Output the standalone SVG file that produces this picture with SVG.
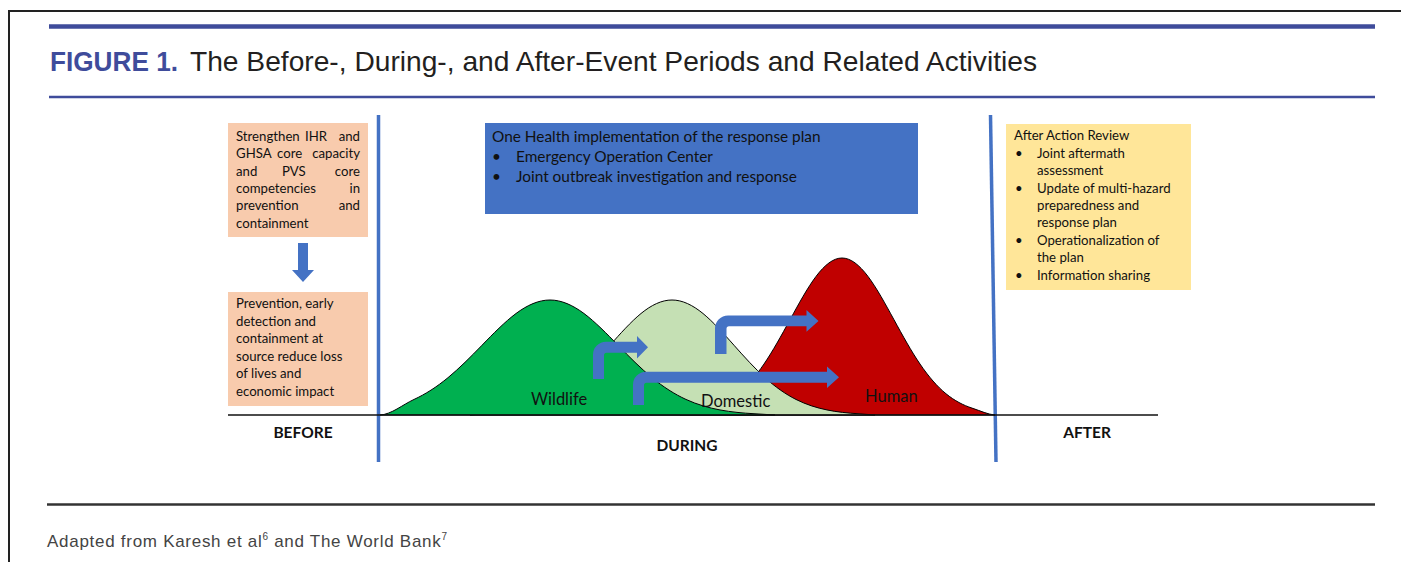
<svg xmlns="http://www.w3.org/2000/svg" width="1401" height="562" viewBox="0 0 1401 562">
<style>
.box{font-family:Lato,"Liberation Sans",sans-serif;fill:#111;}
.s13{font-size:13.2px;}
.s15{font-size:15.4px;}
.lbl{font-family:Lato,"Liberation Sans",sans-serif;font-size:16.5px;fill:#111;}
.per{font-family:Lato,"Liberation Sans",sans-serif;font-size:15.5px;font-weight:bold;fill:#111;text-anchor:middle;}
.curve{stroke:#000;stroke-width:1;}
.arr{fill:#4472c4;}
.vline{stroke:#4472c4;stroke-width:3.5;}
</style>
<rect width="1401" height="562" fill="#fff"/>
<g id="frame">
<path d="M9,562 L9,11 L1401,11" fill="none" stroke="#222" stroke-width="2"/>
<line x1="49" y1="26.5" x2="1375" y2="26.5" stroke="#3f4c9b" stroke-width="4.5"/>
<line x1="49" y1="97" x2="1375" y2="97" stroke="#3f4c9b" stroke-width="2.5"/>
<line x1="47" y1="504.5" x2="1375" y2="504.5" stroke="#333" stroke-width="2.5"/>
</g>
<g id="title">
<text x="50" y="71" font-family="'Liberation Sans',sans-serif" font-size="28" font-weight="bold" fill="#3f4c9b" textLength="128" lengthAdjust="spacingAndGlyphs">FIGURE 1.</text>
<text x="190" y="71" font-family="'Liberation Sans',sans-serif" font-size="28" fill="#231f20" textLength="847" lengthAdjust="spacingAndGlyphs">The Before-, During-, and After-Event Periods and Related Activities</text>
</g>
<g id="footnote">
<text x="47" y="547" font-family="'Liberation Sans',sans-serif" font-size="17" fill="#444" textLength="400" lengthAdjust="spacing">Adapted from Karesh et al<tspan font-size="10" dy="-7">6</tspan><tspan dy="7"> and The World Bank</tspan><tspan font-size="10" dy="-7">7</tspan></text>
</g>
<g id="period-lines">
<line class="vline" x1="378.5" y1="115" x2="378.5" y2="462"/>
<line class="vline" x1="990.5" y1="115" x2="996" y2="462"/>
</g>
<g id="curves">
<path id="human" class="curve" fill="#c00000" d="M680,415 L686,413.26 C694.67,412.39 703.33,410.98 712,408.11 C720.67,405.24 729.33,400.84 738,393.76 C746.67,386.68 755.33,376.77 764,364.02 C772.67,351.28 781.33,335.65 790,319.78 C798.67,303.91 807.33,288 816,276.45 C824.67,264.9 833.33,258 842,258 C850.67,258 859.33,264.9 868,276.45 C876.67,288 885.33,303.91 894,319.78 C902.67,335.65 911.33,351.28 920,364.02 C928.67,376.77 937.33,386.68 946,393.76 C954.67,400.84 963.33,405.24 972,408.11 C980.67,410.98 988,414.5 995,415 Z"/>
<path id="domestic" class="curve" fill="#c5e0b4" d="M470,415 L486,413.72 C496.33,413.08 506.67,412.05 517,409.95 C527.33,407.85 537.67,404.63 548,399.44 C558.33,394.25 568.67,386.99 579,377.66 C589.33,368.33 599.67,356.87 610,345.25 C620.33,333.63 630.67,321.97 641,313.51 C651.33,305.05 661.67,300 672,300 C682.33,300 692.67,305.05 703,313.51 C713.33,321.97 723.67,333.63 734,345.25 C744.33,356.87 754.67,368.33 765,377.66 C775.33,386.99 785.67,394.25 796,399.44 C806.33,404.63 816.67,407.85 827,409.95 C837.33,412.05 847.67,413.08 858,413.72 L875,415 Z"/>
<path id="wildlife" class="curve" fill="#00b050" d="M380,415 C391.33,414.5 402.67,404.63 414,399.44 C425.33,394.25 436.67,386.99 448,377.66 C459.33,368.33 470.67,356.87 482,345.25 C493.33,333.63 504.67,321.97 516,313.51 C527.33,305.05 538.67,300 550,300 C561.33,300 572.67,305.05 584,313.51 C595.33,321.97 606.67,333.63 618,345.25 C629.33,356.87 640.67,368.33 652,377.66 C663.33,386.99 674.67,394.25 686,399.44 C697.33,404.63 708.67,407.85 720,409.95 C731.33,412.05 742.67,413.08 754,413.72 L775,415 Z"/>
</g>
<line id="axis" x1="228" y1="415" x2="1158" y2="415" stroke="#111" stroke-width="1.5"/>
<g id="box-before-top">
<rect x="228" y="123" width="140" height="114" fill="#f8cbad"/>
<g class="box s13">
<text x="236" y="141">Strengthen</text><text x="305" y="141">IHR</text><text x="360" y="141" text-anchor="end">and</text>
<text x="236" y="158.3">GHSA</text><text x="277" y="158.3">core</text><text x="360" y="158.3" text-anchor="end">capacity</text>
<text x="236" y="175.6">and</text><text x="282" y="175.6">PVS</text><text x="360" y="175.6" text-anchor="end">core</text>
<text x="236" y="193">competencies</text><text x="360" y="193" text-anchor="end">in</text>
<text x="236" y="210.3">prevention</text><text x="360" y="210.3" text-anchor="end">and</text>
<text x="236" y="227.6">containment</text>
</g>
</g>
<g id="box-before-bottom">
<rect x="228" y="292" width="140" height="114" fill="#f8cbad"/>
<g class="box s13">
<text x="236" y="308">Prevention, early</text>
<text x="236" y="325.5">detection and</text>
<text x="236" y="343">containment at</text>
<text x="236" y="360.5">source reduce loss</text>
<text x="236" y="378">of lives and</text>
<text x="236" y="395.5">economic impact</text>
</g>
</g>
<g id="box-during">
<rect x="485" y="123" width="433" height="91" fill="#4472c4"/>
<g class="box s15">
<text x="492" y="142">One Health implementation of the response plan</text>
<text x="492" y="162">•</text><text x="516" y="162">Emergency Operation Center</text>
<text x="492" y="181.5">•</text><text x="516" y="181.5">Joint outbreak investigation and response</text>
</g>
</g>
<g id="box-after">
<rect x="1006" y="124" width="185" height="166" fill="#ffe699"/>
<g class="box s13">
<text x="1014" y="140">After Action Review</text>
<text x="1015" y="157.7">•</text><text x="1037" y="157.7">Joint aftermath</text>
<text x="1037" y="175">assessment</text>
<text x="1015" y="192.7">•</text><text x="1037" y="192.7">Update of multi-hazard</text>
<text x="1037" y="210">preparedness and</text>
<text x="1037" y="227.3">response plan</text>
<text x="1015" y="245">•</text><text x="1037" y="245">Operationalization of</text>
<text x="1037" y="262.3">the plan</text>
<text x="1015" y="280">•</text><text x="1037" y="280">Information sharing</text>
</g>
</g>
<g id="connectors">
<path class="arr" d="M298,243 L308,243 L308,270 L314,270 L303,282 L292,270 L298,270 Z"/>
<path class="arr" d="M593,379 L593,354.8 A13,13 0 0 1 606,341.8 L637,341.8 L637,336 L648,347.3 L637,358.6 L637,352.8 L606.5,352.8 A2.5,2.5 0 0 0 604,355.3 L604,379 Z"/>
<path class="arr" d="M633,405 L633,384.8 A13,13 0 0 1 646,371.8 L827,371.8 L827,366.5 L839,377.3 L827,388.1 L827,382.8 L646.5,382.8 A2.5,2.5 0 0 0 644,385.3 L644,405 Z"/>
<path class="arr" d="M715,354 L715,328.5 A13,13 0 0 1 728,315.5 L806.5,315.5 L806.5,310 L818.5,320.9 L806.5,331.8 L806.5,326.3 L729,326.3 A2.5,2.5 0 0 0 726.5,328.8 L726.5,354 Z"/>
</g>
<g id="labels">
<text class="lbl" x="531" y="405">Wildlife</text>
<text class="lbl" x="701" y="407">Domestic</text>
<text class="lbl" x="865" y="402" fill="#2a0000">Human</text>
<text class="per" x="303" y="438">BEFORE</text>
<text class="per" x="687" y="451">DURING</text>
<text class="per" x="1087" y="438">AFTER</text>
</g>
</svg>
